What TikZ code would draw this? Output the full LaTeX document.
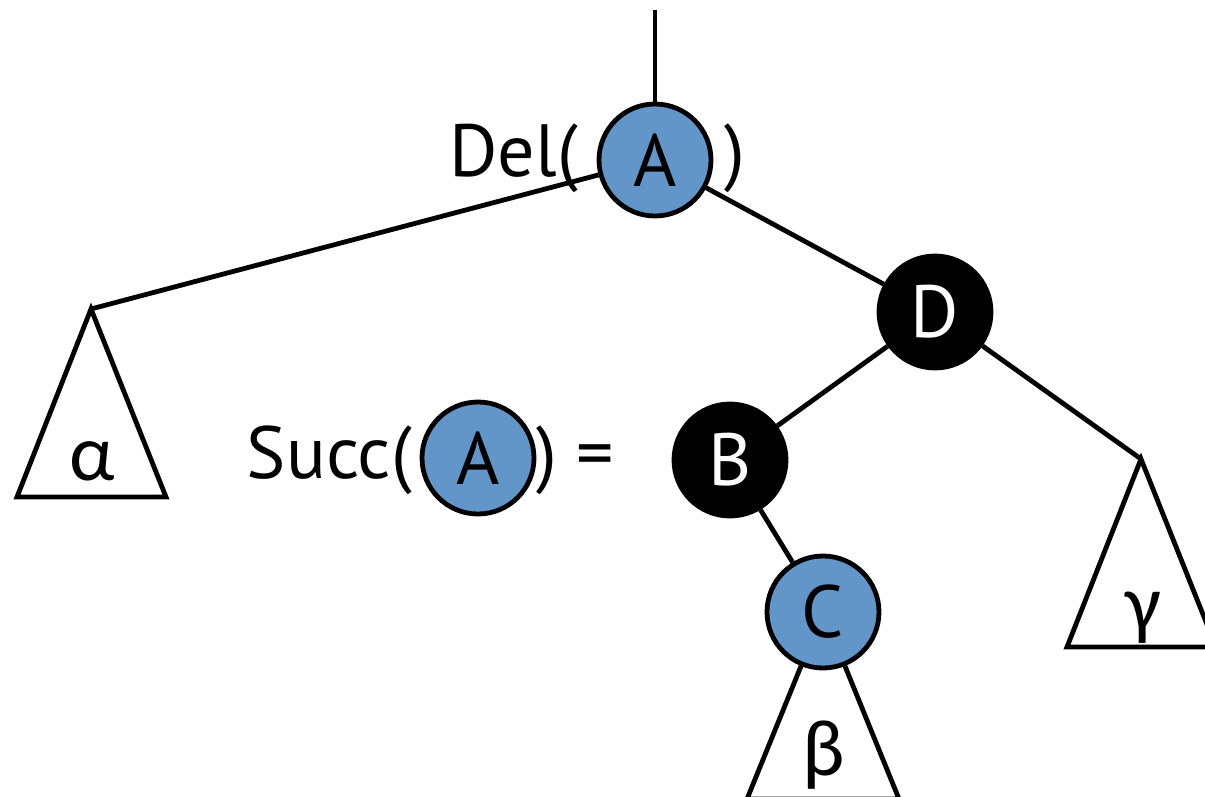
\documentclass[tikz,border=0pt]{standalone}
\usepackage{fontspec}
\setmainfont{PT Sans}
\newfontfamily\grk{Carlito}
\definecolor{nodeblue}{RGB}{98,150,200}
\begin{document}
\begin{tikzpicture}[x=1pt,y=-1pt,
  lw/.style={line width=4.8pt},
  bluenode/.style={circle,draw=black,line width=4.8pt,fill=nodeblue,minimum size=112pt,inner sep=0pt,font=\fontsize{74}{80}\selectfont},
  blacknode/.style={circle,draw=black,line width=4.8pt,fill=black,text=white,minimum size=112pt,inner sep=0pt,font=\fontsize{74}{80}\selectfont},
  lbl/.style={inner sep=0pt,font=\fontsize{74}{80}\selectfont},
  glbl/.style={inner sep=0pt,font=\grk\fontsize{80}{86}\selectfont},
  tri/.style={draw=black,line width=4.8pt,line join=miter,fill=white}]
\useasboundingbox (0,0) rectangle (1205,796);
\clip (0,0) rectangle (1205,796);
% coordinates
\coordinate (top) at (655,10);
\coordinate (alphaT) at (91,309);
\coordinate (alphaL) at (17,497);
\coordinate (alphaR) at (166,497);
\coordinate (gammaT) at (1141,459);
\coordinate (gammaL) at (1067,647);
\coordinate (gammaR) at (1216,647);
\coordinate (betaT) at (823,612);
\coordinate (betaL) at (747,799);
\coordinate (betaR) at (899,799);
% triangles
\draw[tri] (alphaT) -- (alphaL) -- (alphaR) -- cycle;
\draw[tri] (gammaT) -- (gammaL) -- (gammaR) -- cycle;
\draw[tri] (betaT) -- (betaL) -- (betaR) -- cycle;
% nodes
\node[bluenode] (A) at (655,160) {A};
\node[blacknode] (D) at (935,312) {D};
\node[blacknode] (B) at (730,460) {B};
\node[bluenode] (C) at (823,612) {C};
\node[bluenode] (A2) at (478,458) {A};
% edges
\draw[lw] (top) -- (A);
\draw[lw] (A) -- (alphaT);
\draw[lw] (A) -- (D);
\draw[lw] (D) -- (B);
\draw[lw] (D) -- (gammaT);
\draw[lw] (B) -- (C);
% labels
\node[lbl,anchor=base east] (del) at (578,176) {Del(};
\node[lbl,anchor=base west] (delc) at (724,176) {)};
\node[lbl,anchor=base east] (succ) at (412,478) {Succ(};
\node[lbl,anchor=base west] (succc) at (536,478) {)};
\node[lbl,anchor=base west] (eq) at (576,478) {=};
\node[glbl,anchor=base] (alpha) at (92,480) {α};
\node[glbl,anchor=base] (beta) at (824,775) {β};
\node[glbl,anchor=base] (gamma) at (1143,630) {γ};
\end{tikzpicture}
\end{document}
